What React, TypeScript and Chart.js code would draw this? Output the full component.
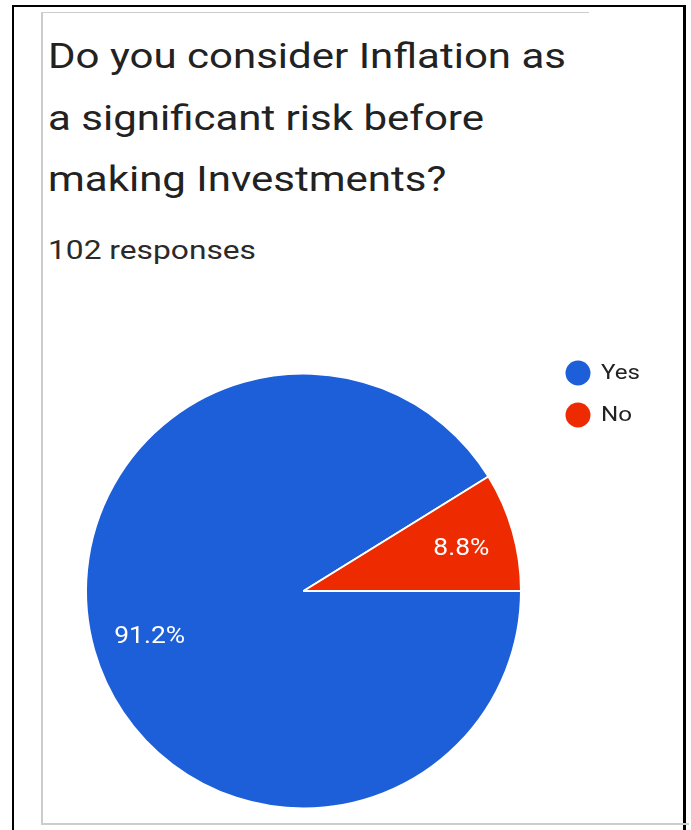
import React, { useEffect, useRef } from "react";
import { Chart, registerables } from "chart.js";

Chart.register(...registerables);

const titleLines = ["Do you consider Inflation as", "a significant risk before", "making Investments?"];
const responsesText = "102 responses";
const categories = ["Yes", "No"];
const counts = [93, 9];
const sliceColors = ["#1c5fd9", "#ee2b00"];

const FONT = "Roboto, 'Noto Sans', sans-serif";

function stretchedText(ctx: any, text: string, x: number, y: number, sx: number, align: string) {
  ctx.save();
  ctx.translate(x, y);
  ctx.scale(sx, 1);
  ctx.textAlign = align;
  ctx.fillText(text, 0, 0);
  ctx.restore();
}

const labelPlugin = {
  id: "sliceLabels",
  afterDatasetsDraw(chart: any) {
    const { ctx } = chart;
    const meta = chart.getDatasetMeta(0);
    const data = chart.data.datasets[0].data as number[];
    const total = data.reduce((a, b) => a + b, 0);
    ctx.save();
    ctx.fillStyle = "#ffffff";
    ctx.font = `24px ${FONT}`;
    ctx.textBaseline = "middle";
    meta.data.forEach((arc: any, i: number) => {
      const { x, y, startAngle, endAngle, outerRadius } = arc.getProps(
        ["x", "y", "startAngle", "endAngle", "outerRadius"],
        true
      );
      const mid = (startAngle + endAngle) / 2;
      const r = outerRadius * 0.745;
      const pct = ((data[i] / total) * 100).toFixed(1) + "%";
      stretchedText(ctx, pct, x + Math.cos(mid) * r + 2, y + Math.sin(mid) * r + 2, 1.1, "center");
    });
    ctx.restore();
  },
};

const legendPlugin = {
  id: "sideLegend",
  afterDraw(chart: any) {
    const { ctx, chartArea } = chart;
    const colors = chart.data.datasets[0].backgroundColor as string[];
    const labels = chart.data.labels as string[];
    ctx.save();
    ctx.font = `21px ${FONT}`;
    ctx.textBaseline = "middle";
    labels.forEach((lab, i) => {
      const cx = chartArea.right + 56;
      const cy = chartArea.top + 1 + i * 42;
      ctx.beginPath();
      ctx.arc(cx, cy, 12.5, 0, Math.PI * 2);
      ctx.fillStyle = colors[i];
      ctx.fill();
      ctx.fillStyle = "#222222";
      stretchedText(ctx, lab, cx + 23, cy + 1, 1.15, "left");
    });
    ctx.restore();
  },
};

export default function App() {
  const ref = useRef<HTMLCanvasElement | null>(null);

  useEffect(() => {
    document.body.style.overflow = "hidden";
    document.body.style.margin = "0";
    if (!ref.current) return;
    const chart = new Chart(ref.current, {
      type: "pie",
      data: {
        labels: categories,
        datasets: [
          {
            data: counts,
            backgroundColor: sliceColors,
            borderColor: "#ffffff",
            borderWidth: 2,
            hoverOffset: 0,
          },
        ],
      },
      options: {
        animation: false,
        responsive: false,
        rotation: 90,
        layout: { padding: { left: 43, top: 42, right: 166, bottom: 14 } },
        plugins: {
          legend: { display: false },
          tooltip: { enabled: false },
        },
      },
      plugins: [labelPlugin, legendPlugin],
    });
    return () => chart.destroy();
  }, []);

  const abs = (s: React.CSSProperties): React.CSSProperties => ({ position: "absolute", ...s });

  return (
    <div style={{ position: "fixed", left: 0, top: 0, width: 691, height: 830, overflow: "hidden", background: "#fff" }}>
      <div style={abs({ left: 12, top: 5, width: 674, height: 2, background: "#000" })} />
      <div style={abs({ left: 12, top: 5, width: 2, height: 830, background: "#000" })} />
      <div style={abs({ left: 683, top: 5, width: 3, height: 830, background: "#000" })} />
      <div style={abs({ left: 41, top: 12, width: 548, height: 1, background: "#cccccc" })} />
      <div style={abs({ left: 41, top: 12, width: 2, height: 813, background: "#cccccc" })} />
      <div style={abs({ left: 41, top: 823, width: 648, height: 2, background: "#cccccc" })} />
      <div
        style={abs({
          left: 48,
          top: 26,
          fontFamily: FONT,
          fontSize: 35,
          lineHeight: "61.5px",
          color: "#222222",
          whiteSpace: "nowrap",
          transform: "scaleX(1.2)",
          transformOrigin: "0 0",
        })}
      >
        {titleLines.map((l, i) => (
          <div key={i}>{l}</div>
        ))}
      </div>
      <div
        style={abs({
          left: 48,
          top: 234,
          fontFamily: FONT,
          fontSize: 26,
          lineHeight: "32px",
          color: "#2a2a2a",
          whiteSpace: "nowrap",
          transform: "scaleX(1.22)",
          transformOrigin: "0 0",
        })}
      >
        {responsesText}
      </div>
      <canvas
        ref={ref}
        width={646}
        height={494}
        style={{ position: "absolute", left: 42, top: 330, width: 646, height: 494 }}
      />
    </div>
  );
}
